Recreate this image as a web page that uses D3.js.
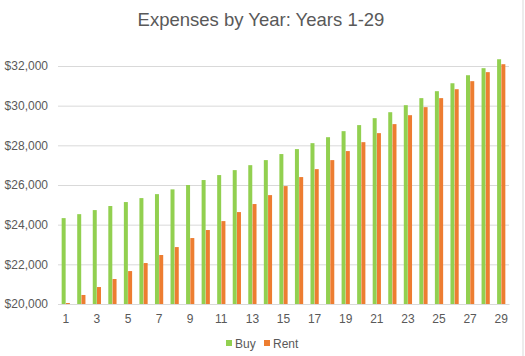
<!DOCTYPE html>
<html><head><meta charset="utf-8">
<script src="https://cdn.jsdelivr.net/npm/d3@7"></script>
<style>body{margin:0;background:#fff}svg{display:block;font-family:"Liberation Sans",Arial,sans-serif}</style>
</head><body><svg id="c" width="525" height="356"></svg>
<script>
const years = d3.range(1, 30);
const buy = [24330,24530,24735,24940,25140,25340,25540,25780,26000,26250,26500,26750,27000,27255,27560,27810,28110,28410,28715,29020,29370,29670,30025,30380,30730,31130,31535,31890,32340];
const rent = [20050,20455,20855,21260,21660,22065,22470,22870,23325,23730,24180,24635,25040,25490,25945,26400,26800,27255,27710,28160,28615,29070,29520,29925,30380,30830,31235,31690,32090];
const yTicks = [20000,22000,24000,26000,28000,30000,32000];
const seriesNames = ["Buy","Rent"];
const colors = ["#92d050","#ed7d31"];

const svg = d3.select("#c");
const m = {l:58, r:509, t:66, b:304};
const x = d3.scaleBand().domain(years).range([m.l, m.r]).paddingInner(0.47).paddingOuter(0.235);
const x1 = d3.scaleBand().domain(seriesNames).range([0, x.bandwidth()]).paddingInner(0.06);
const y = d3.scaleLinear().domain([20000, 32000]).range([m.b, m.t]);

svg.append("line").attr("x1",523).attr("x2",523).attr("y1",0).attr("y2",356).attr("stroke","#d9d9d9");

svg.append("text").attr("x",261).attr("y",26).attr("text-anchor","middle").attr("fill","#595959")
  .style("font-size","18.5px").text("Expenses by Year: Years 1-29");

const yAxis = d3.axisLeft(y).tickValues(yTicks).tickSize(-(m.r-m.l)).tickFormat(d => "$" + d3.format(",")(d));
const gy = svg.append("g").attr("transform",`translate(${m.l},0)`).call(yAxis);
gy.select(".domain").remove();
gy.selectAll(".tick line").attr("stroke","#d9d9d9");
gy.selectAll(".tick text").attr("fill","#595959").attr("x",-10).style("font-size","12px");

const series = [buy, rent];
series.forEach((vals, si) => {
  svg.append("g").selectAll("rect").data(vals).join("rect")
    .attr("x", (d,i) => x(years[i]) + x1(seriesNames[si]))
    .attr("width", x1.bandwidth())
    .attr("y", d => y(d))
    .attr("height", d => y(20000) - y(d))
    .attr("fill", colors[si]);
});

const xAxis = d3.axisBottom(x).tickValues(years.filter(v => v % 2 === 1)).tickSize(0).tickPadding(10);
const gx = svg.append("g").attr("transform",`translate(0,${m.b})`).call(xAxis);
gx.select(".domain").attr("stroke","#d9d9d9");
gx.selectAll(".tick text").attr("fill","#595959").style("font-size","12px");

const lg = svg.append("g");
const items = [{n:"Buy",c:colors[0],x:226},{n:"Rent",c:colors[1],x:264}];
items.forEach(it => {
  lg.append("rect").attr("x",it.x).attr("y",340).attr("width",6).attr("height",6).attr("fill",it.c);
  lg.append("text").attr("x",it.x+9).attr("y",347.5).attr("fill","#595959").style("font-size","12px").text(it.n);
});
</script></body></html>
